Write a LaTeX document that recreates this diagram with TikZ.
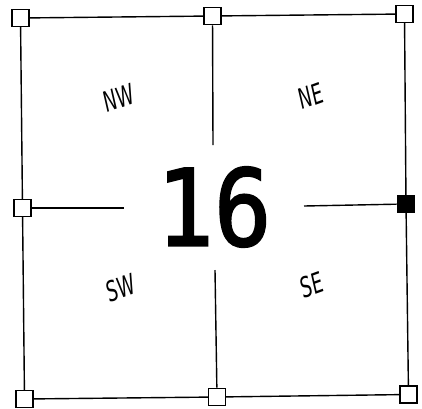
\documentclass[tikz,border=0pt]{standalone}
\usepackage{fontspec}
\newfontfamily\numfont[RawFeature={embolden=2}]{DejaVu Sans Mono}
\newfontfamily\labfont{DejaVu Sans}
\begin{document}
\begin{tikzpicture}[x=1pt,y=-1pt,
  sq/.style={draw,fill=white,line width=1.6pt,minimum size=17pt,inner sep=0pt},
  sqf/.style={sq,fill=black},
  edge/.style={line width=1.4pt},
  lab/.style={font=\labfont\itshape\fontsize{28}{28}\selectfont,inner sep=0pt,rotate=20,xscale=0.64}]
\useasboundingbox (0,0) rectangle (422,408);
\coordinate (ct) at (213,145);
\coordinate (cb) at (215,270);
\coordinate (cl) at (124,208);
\coordinate (cr) at (304,206);
\draw[edge] (20.5,18) -- (212.5,16) -- (404.5,14);
\draw[edge] (404.5,14) -- (406,204) -- (408.5,394.5);
\draw[edge] (24.5,399) -- (217,397) -- (408.5,394.5);
\draw[edge] (20.5,18) -- (22.5,208) -- (24.5,399);
\node[sq] (tl) at (20.5,18) {};
\node[sq] (tm) at (212.5,16) {};
\node[sq] (tr) at (404.5,14) {};
\node[sq] (ml) at (22.5,208) {};
\node[sqf] (mr) at (406,204) {};
\node[sq] (bl) at (24.5,399) {};
\node[sq] (bm) at (217,397) {};
\node[sq] (br) at (408.5,394.5) {};
\draw[edge] (tm) -- (ct);
\draw[edge] (bm) -- (cb);
\draw[edge] (ml) -- (cl);
\draw[edge] (mr) -- (cr);
\node[font=\numfont\fontsize{106}{106}\selectfont,inner sep=0pt,xscale=0.9] (num) at (214,207) {16};
\node[lab] (nw) at (119,98) {NW};
\node[lab] (ne) at (311,96) {NE};
\node[lab] (sw) at (121,288) {SW};
\node[lab] (se) at (312,285) {SE};
\end{tikzpicture}
\end{document}
